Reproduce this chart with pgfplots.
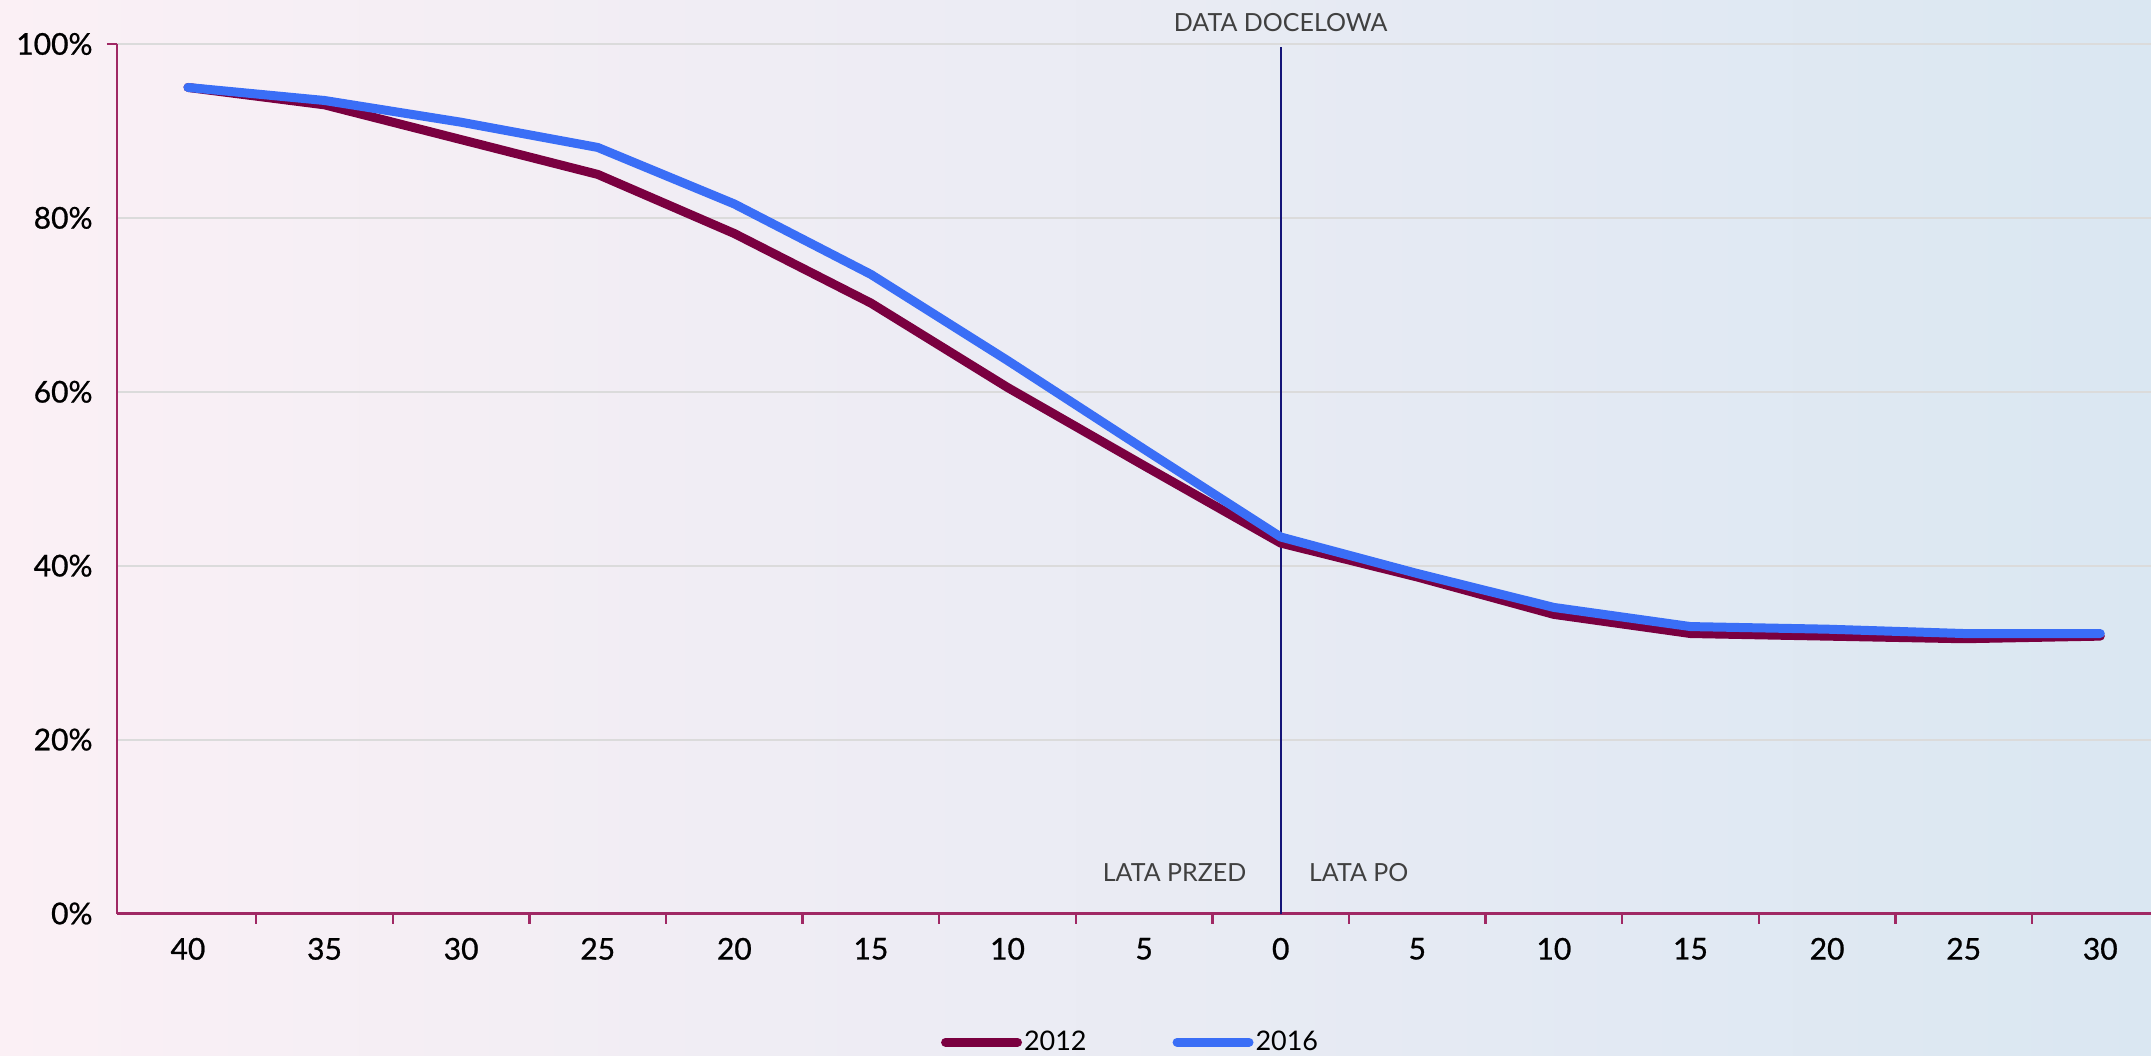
\documentclass[border=0pt]{standalone}
\usepackage{fontspec}
\setmainfont{Lato}
\newfontfamily\tickfont{Lato}[FakeBold=0.8]
\usepackage{pgfplots}
\pgfplotsset{compat=1.18}

\definecolor{axiscol}{RGB}{160,40,100}
\definecolor{c2012}{RGB}{122,0,64}
\definecolor{c2016}{RGB}{58,110,246}
\definecolor{markcol}{RGB}{20,20,120}
\definecolor{labcol}{RGB}{64,64,64}

\begin{document}
\begin{tikzpicture}[x=1pt,y=1pt]
% background (1 px of the reference = 0.5pt)
\shade[left color={rgb,255:red,251;green,240;blue,245},
       middle color={rgb,255:red,247;green,248;blue,252},
       right color={rgb,255:red,218;green,231;blue,242}]
  (0,0) rectangle (1076,528);
\begin{axis}[
  at={(58.5pt,71pt)}, anchor=south west,
  scale only axis, width=1017.5pt, height=435pt,
  xmin=-0.52, xmax=14.37, ymin=0, ymax=100,
  axis lines*=left,
  axis line style={axiscol, line width=1.2pt},
  clip=false,
  xtick={0,...,14},
  xticklabels={40,35,30,25,20,15,10,5,0,5,10,15,20,25,30},
  minor x tick num=1,
  ytick={0,20,40,60,80,100},
  yticklabels={0\%,20\%,40\%,60\%,80\%,100\%},
  ymajorgrids,
  grid style={gray!28, line width=1pt},
  tick align=outside,
  tick style={axiscol, line width=1.2pt},
  major tick length=0pt,
  minor tick length=5pt,
  extra y ticks={100},
  extra y tick labels={},
  extra y tick style={major tick length=5pt, grid=none},
  ticklabel style={font=\tickfont\fontsize{15}{18}\selectfont, text=black},
  xticklabel style={inner sep=0pt, yshift=-12pt},
  yticklabel style={inner sep=0pt, xshift=-12pt},
  legend style={at={(0.405,-0.148)}, anchor=west, draw=none, fill=none,
    inner sep=0pt, font=\fontsize{13.5}{16}\selectfont,
    nodes={inner sep=1pt},
    /tikz/every even column/.style={column sep=42pt}},
  legend columns=2,
  legend image code/.code={\draw[#1, line cap=round] (0pt,0pt) -- (36pt,0pt);},
]
% target date marker
\addplot[markcol, line width=1.2pt, forget plot] coordinates {(8,0) (8,99.6)};

\addplot[c2012, line width=4.5pt, line cap=round, line join=round] coordinates {
(0,95.0) (1,93.0) (2,89.0) (3,85.0) (4,78.2) (5,70.2) (6,60.5) (7,51.5)
(8,42.6) (9,38.7) (10,34.4) (11,32.2) (12,31.9) (13,31.6) (14,31.9)};
\addlegendentry{2012}
\addplot[c2016, line width=4.5pt, line cap=round, line join=round] coordinates {
(0,95.0) (1,93.5) (2,91.0) (3,88.1) (4,81.6) (5,73.5) (6,63.6) (7,53.4)
(8,43.3) (9,39.1) (10,35.2) (11,33.0) (12,32.7) (13,32.2) (14,32.2)};
\addlegendentry{2016}

\node[font=\fontsize{12.5}{15}\selectfont, text=labcol] at (axis cs:8,102.5) {DATA DOCELOWA};
\node[font=\fontsize{12.5}{15}\selectfont, text=labcol, anchor=east, inner sep=0pt, xshift=-17pt] at (axis cs:8,4.7) {LATA PRZED};
\node[font=\fontsize{12.5}{15}\selectfont, text=labcol, anchor=west, inner sep=0pt, xshift=14pt] at (axis cs:8,4.7) {LATA PO};
\end{axis}
\path[use as bounding box] (0,0) rectangle (1076,528);
\end{tikzpicture}
\end{document}
